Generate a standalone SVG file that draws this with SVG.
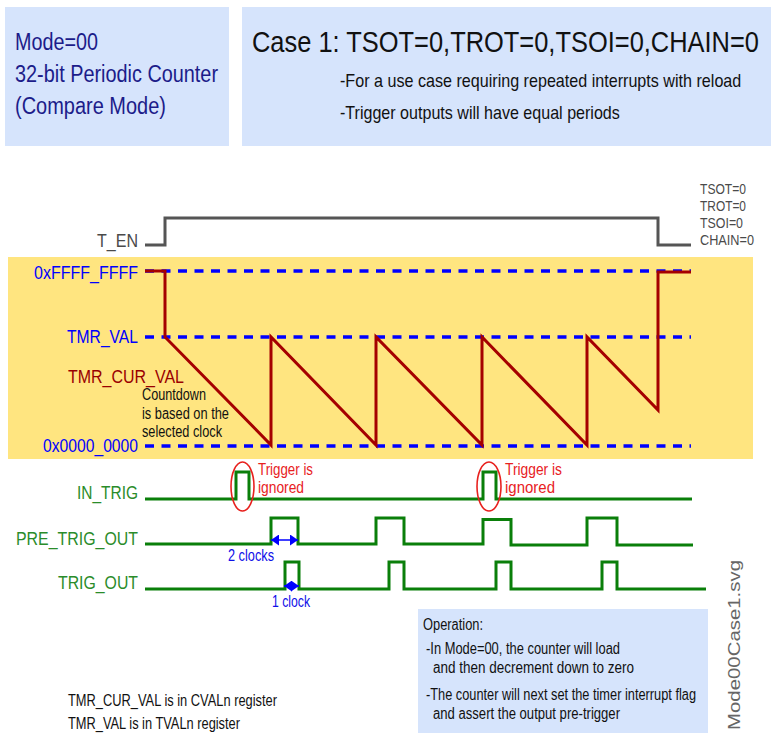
<svg xmlns="http://www.w3.org/2000/svg" width="771" height="736" viewBox="0 0 771 736">
<style>
text{font-family:'Liberation Sans Narrow','Liberation Sans',Arial,sans-serif}
.box{fill:#D6E4FC}
.mode{fill:#1C1C8A;font-size:23px}
.title{fill:#111;font-size:30px}
.bul{fill:#111;font-size:18px}
.gray{fill:#4A4A4A}
.blue{fill:#0000FF;font-size:19px}
.red{fill:#990000;font-size:19px}
.blk{fill:#111;font-size:16px}
.grn{fill:#2A8C2A;font-size:19px}
.ann{fill:#E8211E;font-size:16px}
.bl2{fill:#1010E8;font-size:16.5px}
.op{fill:#111;font-size:16px}
.dash{stroke:#0000FF;stroke-width:3.5;stroke-dasharray:9 7.5;fill:none}
.sig{stroke:#0A7F0A;stroke-width:3;fill:none}
.saw{stroke:#A50000;stroke-width:3;fill:none;stroke-linejoin:miter}
.ten{stroke:#555;stroke-width:3;fill:none}
.ell{stroke:#E8211E;stroke-width:1.6;fill:none}
.arr{stroke:#0000FF;stroke-width:1.5;fill:none}
</style>
<defs>
<marker id="ah" markerUnits="userSpaceOnUse" markerWidth="8" markerHeight="11" refX="8" refY="5.5" orient="auto-start-reverse">
<path d="M0,0 L8,5.5 L0,11 z" fill="#0000FF"/>
</marker>
</defs>

<g id="mode-box">
<rect class="box" x="5" y="7" width="224" height="139"/>
<text class="mode" x="15" y="50" textLength="83" lengthAdjust="spacingAndGlyphs">Mode=00</text>
<text class="mode" x="15" y="82" textLength="203" lengthAdjust="spacingAndGlyphs">32-bit Periodic Counter</text>
<text class="mode" x="15" y="114" textLength="151" lengthAdjust="spacingAndGlyphs">(Compare Mode)</text>
</g>

<g id="case-box">
<rect class="box" x="242" y="7" width="529" height="139"/>
<text class="title" transform="translate(252,52) scale(0.845,1)" x="0" y="0" textLength="600" lengthAdjust="spacingAndGlyphs">Case 1: TSOT=0,TROT=0,TSOI=0,CHAIN=0</text>
<text class="bul" transform="translate(340,87) scale(0.88,1)" x="0" y="0" textLength="456" lengthAdjust="spacingAndGlyphs">-For a use case requiring repeated interrupts with reload</text>
<text class="bul" transform="translate(340,119) scale(0.88,1)" x="0" y="0" textLength="318" lengthAdjust="spacingAndGlyphs">-Trigger outputs will have equal periods</text>
</g>

<g id="t-en">
<text class="gray" x="138" y="247" font-size="19" text-anchor="end" textLength="41" lengthAdjust="spacingAndGlyphs">T_EN</text>
<path class="ten" d="M145,245 H165 V218 H658 V245 H691"/>
</g>

<g id="settings">
<text class="gray" x="700" y="194" font-size="15" textLength="46" lengthAdjust="spacingAndGlyphs">TSOT=0</text>
<text class="gray" x="700" y="211" font-size="15" textLength="46" lengthAdjust="spacingAndGlyphs">TROT=0</text>
<text class="gray" x="700" y="228" font-size="15" textLength="43" lengthAdjust="spacingAndGlyphs">TSOI=0</text>
<text class="gray" x="700" y="245" font-size="15" textLength="54" lengthAdjust="spacingAndGlyphs">CHAIN=0</text>
</g>

<g id="counter-area">
<rect x="8" y="257" width="745" height="202" fill="#FFE580"/>
<path class="dash" d="M145,271 H691"/>
<path class="dash" d="M145,337 H691"/>
<path class="dash" d="M145,446 H691"/>
<text class="blue" x="138" y="279" text-anchor="end" textLength="104" lengthAdjust="spacingAndGlyphs">0xFFFF_FFFF</text>
<text class="blue" x="138" y="343" text-anchor="end" textLength="71" lengthAdjust="spacingAndGlyphs">TMR_VAL</text>
<text class="blue" x="138" y="452" text-anchor="end" textLength="95" lengthAdjust="spacingAndGlyphs">0x0000_0000</text>
<text class="red" x="68" y="383" textLength="116" lengthAdjust="spacingAndGlyphs">TMR_CUR_VAL</text>
<text class="blk" x="142" y="400" textLength="64" lengthAdjust="spacingAndGlyphs">Countdown</text>
<text class="blk" x="142" y="418.5" textLength="87" lengthAdjust="spacingAndGlyphs">is based on the</text>
<text class="blk" x="142" y="437" textLength="80" lengthAdjust="spacingAndGlyphs">selected clock</text>
<path class="saw" d="M145,271 H165 V337 L271,445 V337 L376,445 V337 L482,445 V337 L587,445 V337 L658,410 V272 H691"/>
</g>

<g id="in-trig">
<text class="grn" x="138" y="499" text-anchor="end" textLength="61" lengthAdjust="spacingAndGlyphs">IN_TRIG</text>
<path class="sig" d="M145,499 H236 V472 H249 V499 H483 V472 H496 V499 H692"/>
<ellipse class="ell" cx="242.5" cy="486.5" rx="11.5" ry="24.5"/>
<ellipse class="ell" cx="489" cy="486.5" rx="12" ry="24.5"/>
<text class="ann" x="258" y="475" textLength="55" lengthAdjust="spacingAndGlyphs">Trigger is</text>
<text class="ann" x="258" y="493" textLength="46" lengthAdjust="spacingAndGlyphs">ignored</text>
<text class="ann" x="505" y="475" textLength="57" lengthAdjust="spacingAndGlyphs">Trigger is</text>
<text class="ann" x="505" y="493" textLength="50" lengthAdjust="spacingAndGlyphs">ignored</text>
</g>

<g id="pre-trig-out">
<text class="grn" x="138" y="545" text-anchor="end" textLength="122" lengthAdjust="spacingAndGlyphs">PRE_TRIG_OUT</text>
<path class="sig" d="M145,544 H271 V518 H298 V544 H376 V518 H404 V544 H483 V519.5 H511 V545 H587 V518 H617 V545 H693"/>
</g>

<g id="trig-out">
<text class="grn" x="138" y="589" text-anchor="end" textLength="80" lengthAdjust="spacingAndGlyphs">TRIG_OUT</text>
<path class="sig" d="M145,589 H285 V562 H299 V589 H389 V562 H404 V589 H496 V562 H511 V589 H602 V562 H617 V589 H706"/>
</g>

<g id="connectors">
<path class="arr" d="M271,540 H298" marker-start="url(#ah)" marker-end="url(#ah)"/>
<path class="arr" d="M284,586 H299" marker-start="url(#ah)" marker-end="url(#ah)"/>
</g>

<g id="clock-labels">
<text class="bl2" x="228" y="561" textLength="46" lengthAdjust="spacingAndGlyphs">2 clocks</text>
<text class="bl2" x="272" y="607" textLength="38" lengthAdjust="spacingAndGlyphs">1 clock</text>
</g>

<g id="operation-box">
<rect class="box" x="418" y="609" width="290" height="124"/>
<text class="op" x="423" y="630" textLength="60" lengthAdjust="spacingAndGlyphs">Operation:</text>
<text class="op" x="426" y="654" textLength="194" lengthAdjust="spacingAndGlyphs">-In Mode=00, the counter will load</text>
<text class="op" x="433" y="673" textLength="201" lengthAdjust="spacingAndGlyphs">and then decrement down to zero</text>
<text class="op" x="426" y="700" textLength="270" lengthAdjust="spacingAndGlyphs">-The counter will next set the timer interrupt flag</text>
<text class="op" x="433" y="719" textLength="187" lengthAdjust="spacingAndGlyphs">and assert the output pre-trigger</text>
</g>

<g id="register-notes">
<text class="op" x="68" y="706" textLength="209" lengthAdjust="spacingAndGlyphs">TMR_CUR_VAL is in CVALn register</text>
<text class="op" x="68" y="729" textLength="172" lengthAdjust="spacingAndGlyphs">TMR_VAL is in TVALn register</text>
</g>

<g id="file-name">
<text x="740" y="730" transform="rotate(-90 740 730)" fill="#666" font-size="17" style="font-family:'Liberation Sans',Arial,sans-serif" textLength="170" lengthAdjust="spacingAndGlyphs">Mode00Case1.svg</text>
</g>
</svg>
